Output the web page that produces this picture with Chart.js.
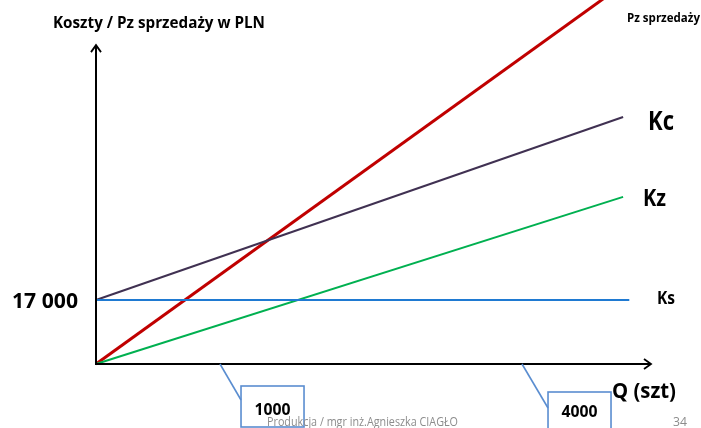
<!DOCTYPE html>
<html><head><meta charset="utf-8">
<script src="https://cdn.jsdelivr.net/npm/chart.js@4/dist/chart.umd.min.js"></script>
<style>html,body{margin:0;padding:0;background:#fff}#wrap{width:701px;height:428px;position:relative}</style>
</head><body><div id="wrap"><canvas id="c" width="701" height="428"></canvas></div>
<script>
// Quantity Q (szt) at line ends
const qStart = 0;
const qEnd = 4250;
const qEndKs = 4300;
// Costs / revenue in PLN
const fixedCost = 17000;              // Ks
const revenueEnd = 100800;            // Pz sprzedaży at qEnd
const totalCostEnd = 65600;           // Kc at qEnd
const variableCostEnd = 44400;        // Kz at qEnd
// Axis extents
const X_MAX = 4475;
const Y_MAX = 96690;
const Y_AXIS_TOP = 84700;
// Callouts on Q axis
const calloutLabels = ['1000', '4000'];
const calloutAnchorQ = [1000, 3435];

const seriesPz = [{x:qStart,y:0},{x:qEnd,y:revenueEnd}];
const seriesKc = [{x:qStart,y:fixedCost},{x:qEnd,y:totalCostEnd}];
const seriesKz = [{x:qStart,y:0},{x:qEnd,y:variableCostEnd}];
const seriesKs = [{x:qStart,y:fixedCost},{x:qEndKs,y:fixedCost}];

const FONT = '"Open Sans", Lato, sans-serif';

// draw text at a given font size, compressed horizontally to a given width
function fitText(c, text, x, y, width, size, weight, align){
  c.save();
  c.font = weight + ' ' + size + 'px ' + FONT;
  const w = c.measureText(text).width;
  const sx = Math.min(1.1, width / w);
  c.textAlign = align || 'left';
  c.translate(x, y); c.scale(sx, 1);
  c.fillText(text, 0, 0);
  c.restore();
}

const decor = {
  id:'decor',
  beforeDraw(chart){
    const c = chart.ctx; c.save(); c.fillStyle='#fff'; c.fillRect(0,0,chart.width,chart.height); c.restore();
  },
  afterDatasetsDraw(chart){
    const c = chart.ctx, xs = chart.scales.x, ys = chart.scales.y;
    const x0 = xs.getPixelForValue(0), y0 = ys.getPixelForValue(0);
    const yTop = ys.getPixelForValue(Y_AXIS_TOP), xEnd = xs.getPixelForValue(X_MAX);
    c.save();
    c.strokeStyle = '#000'; c.lineWidth = 2; c.lineCap='butt';
    c.beginPath(); c.moveTo(x0, y0+1); c.lineTo(x0, yTop+1); c.stroke();
    c.beginPath(); c.moveTo(x0-1, y0); c.lineTo(xEnd-1, y0); c.stroke();
    // arrowheads
    c.lineWidth = 1.8;
    c.beginPath(); c.moveTo(x0-5, yTop+7); c.lineTo(x0, yTop); c.lineTo(x0+5, yTop+7); c.stroke();
    c.beginPath(); c.moveTo(xEnd-7, y0-5); c.lineTo(xEnd, y0); c.lineTo(xEnd-7, y0+5); c.stroke();

    // callouts
    const boxes = [{dx:21, dy:22, w:63, h:41, ly:36, ty:47}, {dx:26, dy:28, w:63, h:40, ly:44, ty:49}];
    c.textBaseline='middle';
    calloutLabels.forEach((lab,i)=>{
      const ax = xs.getPixelForValue(calloutAnchorQ[i]);
      const b = boxes[i];
      const bx = ax + b.dx, by = y0 + b.dy;
      c.strokeStyle = '#5A8DD0'; c.lineWidth = 1.6;
      c.beginPath(); c.moveTo(ax, y0); c.lineTo(bx, y0 + b.ly); c.stroke();
      c.strokeRect(bx, by, b.w, b.h);
      c.fillStyle = '#000';
      fitText(c, lab, bx + b.w/2, y0 + b.ty, 36, 15.5, 'bold', 'center');
    });

    // texts
    c.fillStyle = '#000';
    fitText(c, 'Koszty / Pz sprzedaży w PLN', 53, 24, 212, 15.5, 'bold');
    fitText(c, 'Pz sprzedaży', 627, 18, 73, 12.5, 'bold');
    fitText(c, 'Kc', 648, 122, 26, 26.5, 'bold');
    fitText(c, 'Kz', 643, 199, 23, 23.5, 'bold');
    fitText(c, 'Ks', 657, 299, 18, 18, 'bold');
    fitText(c, '17 000', 12, 302, 66, 21, 'bold');
    fitText(c, 'Q (szt)', 612, 392, 64, 21, 'bold');
    c.fillStyle = '#8c8c8c';
    fitText(c, 'Produkcja / mgr inż.Agnieszka CIAGŁO', 267, 423, 191, 12, 'normal');
    fitText(c, '34', 673, 423, 14, 12, 'normal');
    c.restore();
  }
};

new Chart(document.getElementById('c'), {
  type:'line',
  data:{ datasets:[
    {label:'Ks', data:seriesKs, borderColor:'#1F7AD2', borderWidth:2},
    {label:'Kz', data:seriesKz, borderColor:'#00B050', borderWidth:2},
    {label:'Kc', data:seriesKc, borderColor:'#403152', borderWidth:2},
    {label:'Pz sprzedaży', data:seriesPz, borderColor:'#C00000', borderWidth:3}
  ]},
  options:{
    responsive:false, animation:false, devicePixelRatio:1,
    layout:{padding:{left:96, right:50, top:0, bottom:64}},
    elements:{point:{radius:0}, line:{tension:0}},
    datasets:{line:{clip:false}},
    plugins:{legend:{display:false}, tooltip:{enabled:false}},
    scales:{
      x:{type:'linear', min:0, max:X_MAX, display:false},
      y:{type:'linear', min:0, max:Y_MAX, display:false}
    }
  },
  plugins:[decor]
});
</script></body></html>
